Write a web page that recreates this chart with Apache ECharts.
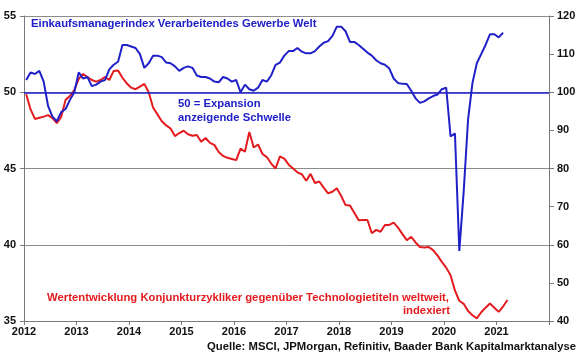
<!DOCTYPE html>
<html>
<head>
<meta charset="utf-8">
<script src="https://cdn.jsdelivr.net/npm/echarts@6/dist/echarts.min.js"></script>
<style>
html,body{margin:0;padding:0;background:#fff;}
#chart{width:580px;height:359px;}
</style>
</head>
<body>
<div id="chart"></div>
<script>
// Monthly data, Jan 2012 onwards
var startYear = 2012;
var xTickLabels = ['2012','2013','2014','2015','2016','2017','2018','2019','2020','2021'];
var leftTicks = [35, 40, 45, 50, 55];
var rightTicks = [40, 50, 60, 70, 80, 90, 100, 110, 120];

// Einkaufsmanagerindex Verarbeitendes Gewerbe Welt (left axis), Jan 2012 - Feb 2021
var pmiValues = [
  50.8, 51.3, 51.2, 51.4, 50.7, 49.1, 48.4, 48.1, 48.7, 48.9, 49.5, 50.0,
  51.3, 50.9, 51.0, 50.4, 50.5, 50.7, 50.8, 51.5, 51.8, 52.0, 53.1, 53.1,
  53.0, 52.9, 52.5, 51.6, 51.9, 52.4, 52.4, 52.3, 51.95, 51.9, 51.7, 51.4,
  51.6, 51.7, 51.6, 51.1, 51.0, 51.0, 50.9, 50.7, 50.65, 51.0, 50.9, 50.7,
  50.8, 50.0, 50.5, 50.2, 50.1, 50.3, 50.8, 50.7, 51.1, 51.8, 51.95, 52.4,
  52.7, 52.7, 52.9, 52.66, 52.55, 52.55, 52.7, 53.0, 53.25, 53.35, 53.7, 54.3,
  54.3, 54.0, 53.3, 53.3, 53.1, 52.85, 52.6, 52.4, 52.1, 51.9, 51.8, 51.55,
  50.9, 50.6, 50.55, 50.54, 50.1, 49.6, 49.3, 49.4, 49.6, 49.75, 49.85, 50.2,
  50.3, 47.1, 47.3, 39.6, 43.5, 48.2, 50.6, 51.9, 52.5, 53.1, 53.8, 53.8,
  53.6, 53.9
];

// Wertentwicklung Konjunkturzykliker vs. Technologietitel, indexiert (right axis), Jan 2012 - Mar 2021
var cyclicalValues = [
  99.5, 95.5, 93.0, 93.3, 93.6, 94.0, 93.2, 91.9, 93.5, 98.0, 99.0, 100.6,
  103.5, 104.8, 104.0, 103.2, 102.8, 103.2, 104.0, 103.2, 105.6, 105.7, 103.8, 102.3,
  101.2, 100.8, 101.5, 102.2, 100.0, 96.0, 94.2, 92.4, 91.3, 90.5, 88.5, 89.3,
  89.9, 89.0, 88.6, 88.8, 87.0, 88.0, 86.7, 86.2, 84.3, 83.3, 82.8, 82.5,
  82.2, 85.2, 84.4, 89.6, 85.5, 86.3, 83.8, 83.0, 81.3, 80.0, 83.2, 82.6,
  81.0, 80.0, 79.0, 78.5, 76.8, 78.6, 76.2, 76.6, 75.0, 73.5, 73.9, 74.8,
  72.8, 70.4, 70.3, 68.4, 66.4, 66.5, 66.5, 63.0, 63.9, 63.4, 65.2, 65.2,
  65.8, 64.5, 62.8, 61.2, 62.1, 60.6, 59.4, 59.3, 59.4, 58.6, 57.2, 55.5,
  54.0, 52.0, 48.0, 45.3, 44.5, 42.6, 41.5, 40.7, 42.3, 43.5, 44.6, 43.5,
  42.4, 43.8, 45.5
];

var thresholdValue = 50;

function toPairs(vals) {
  return vals.map(function (v, i) { return [startYear + (i + 0.5) / 12, v]; });
}

var BLUE = '#2020c8';
var RED = '#e31b1f';
var FONT = '"Liberation Sans", Arial, sans-serif';
var TFONT = 'bold 11.3px ' + FONT;

var chart = echarts.init(document.getElementById('chart'), null, {renderer: 'canvas'});
chart.setOption({
  animation: false,
  backgroundColor: '#fff',
  grid: {left: 24, right: 31, top: 16, bottom: 38, containLabel: false},
  xAxis: {
    type: 'value', min: 2012, max: 2022, interval: 1,
    axisLine: {show: true, lineStyle: {color: '#7a7a7a', width: 1}},
    axisTick: {show: true, length: 4, lineStyle: {color: '#7a7a7a'}},
    splitLine: {show: false},
    axisLabel: {
      color: '#111', fontWeight: 'bold', fontSize: 11, fontFamily: FONT, margin: 5,
      formatter: function (v) { var i = Math.round(v) - 2012; return xTickLabels[i] || ''; }
    }
  },
  yAxis: [{
    type: 'value', min: leftTicks[0], max: leftTicks[leftTicks.length - 1], interval: 5,
    position: 'left',
    axisLine: {show: true, lineStyle: {color: '#7a7a7a', width: 1}},
    axisTick: {show: true, length: 4, lineStyle: {color: '#7a7a7a'}},
    splitLine: {show: true, lineStyle: {color: '#8c8c8c', width: 1}},
    axisLabel: {color: '#111', fontWeight: 'bold', fontSize: 11, fontFamily: FONT, margin: 8}
  }, {
    type: 'value', min: rightTicks[0], max: rightTicks[rightTicks.length - 1], interval: 10,
    position: 'right',
    axisLine: {show: true, lineStyle: {color: '#7a7a7a', width: 1}},
    axisTick: {show: true, length: 5, lineStyle: {color: '#7a7a7a'}},
    splitLine: {show: false},
    axisLabel: {color: '#111', fontWeight: 'bold', fontSize: 11, fontFamily: FONT, margin: 8}
  }],
  series: [{
    name: 'Konjunkturzykliker', type: 'line', yAxisIndex: 1,
    data: toPairs(cyclicalValues), showSymbol: false, symbol: 'none',
    lineStyle: {color: RED, width: 2}, itemStyle: {color: RED}, z: 3
  }, {
    name: 'PMI', type: 'line', yAxisIndex: 0,
    data: toPairs(pmiValues), showSymbol: false, symbol: 'none',
    lineStyle: {color: BLUE, width: 2}, itemStyle: {color: BLUE}, z: 4,
    markLine: {
      silent: true, symbol: ['none', 'none'], label: {show: false},
      lineStyle: {color: BLUE, width: 1.6, type: 'solid'},
      data: [{yAxis: thresholdValue}]
    }
  }],
  graphic: [
    {type: 'text', left: 31, top: 18, style: {text: 'Einkaufsmanagerindex Verarbeitendes Gewerbe Welt', fill: BLUE, font: TFONT}},
    {type: 'text', left: 178, top: 97, style: {text: '50 = Expansion\nanzeigende Schwelle', fill: BLUE, font: TFONT, lineHeight: 14}},
    {type: 'text', right: 131, top: 292, style: {text: 'Wertentwicklung Konjunkturzykliker gegenüber Technologietiteln weltweit,', fill: RED, font: TFONT}},
    {type: 'text', right: 130, top: 305, style: {text: 'indexiert', fill: RED, font: TFONT}},
    {type: 'text', right: 4, top: 341, style: {text: 'Quelle: MSCI, JPMorgan, Refinitiv, Baader Bank Kapitalmarktanalyse', fill: '#111', font: TFONT}}
  ]
});
</script>
</body>
</html>
